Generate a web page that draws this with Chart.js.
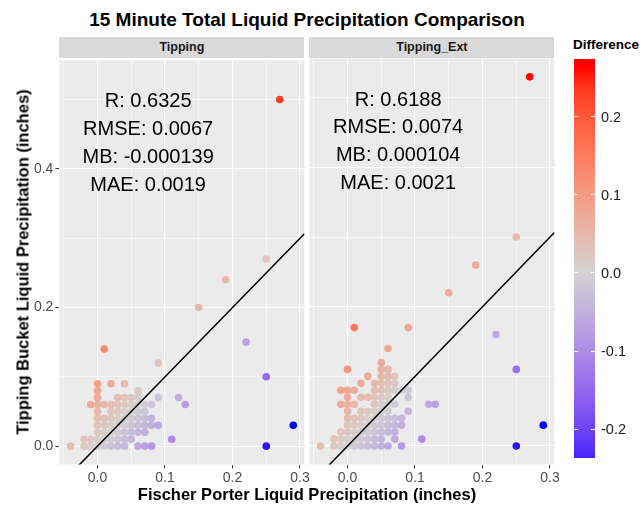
<!DOCTYPE html>
<html><head><meta charset="utf-8">
<script src="https://cdn.jsdelivr.net/npm/chart.js@4.4.1/dist/chart.umd.min.js"></script>
<style>
html,body{margin:0;padding:0;background:#fff;}
body{width:644px;height:508px;overflow:hidden;position:relative;font-family:"Liberation Sans",Arial,Helvetica,sans-serif;}
.abs{position:absolute;white-space:nowrap;}
canvas{position:absolute;}
</style></head><body>
<div id="title" class="abs" style="left:0;width:614px;top:8.5px;text-align:center;font-weight:bold;font-size:19px;color:#000;">15 Minute Total Liquid Precipitation Comparison</div>
<div class="abs" style="left:59.4px;width:245px;top:36.8px;height:21.6px;background:#D9D9D9;"></div>
<div class="abs" style="left:309.4px;width:245px;top:36.8px;height:21.6px;background:#D9D9D9;"></div>
<div id="strip1" class="abs" style="left:59.4px;width:245px;top:36.8px;line-height:21.6px;text-align:center;font-weight:bold;font-size:12.5px;color:#1A1A1A;">Tipping</div>
<div id="strip2" class="abs" style="left:309.4px;width:245px;top:36.8px;line-height:21.6px;text-align:center;font-weight:bold;font-size:12.5px;color:#1A1A1A;">Tipping_Ext</div>
<canvas id="c1" width="315" height="440" style="left:0;top:50px;"></canvas>
<canvas id="c2" width="260" height="440" style="left:305px;top:50px;"></canvas>
<div id="xtitle" class="abs" style="left:0;width:614px;top:485px;text-align:center;font-weight:bold;font-size:16.5px;color:#000;">Fischer Porter Liquid Precipitation (inches)</div>
<div id="ytitle" class="abs" style="left:22.5px;top:261.5px;transform:translate(-50%,-50%) rotate(-90deg);font-weight:bold;font-size:16.5px;color:#000;">Tipping Bucket Liquid Precipitation (inches)</div>
<div id="legtitle" class="abs" style="left:573px;top:37px;font-weight:bold;font-size:13.5px;color:#000;">Difference</div>
<div id="legbar" class="abs" style="left:574px;top:59px;width:21px;height:399px;"></div>
<div id="legticks"></div>
<script>
// ---------- data (inches) ----------
const tippingFP = [
  -0.04,-0.02,-0.01,0.00,0.01,0.02,0.03,0.04,0.06,0.07,0.08,0.25,
  -0.02,-0.01,0.00,0.01,0.02,0.03,0.04,0.05,0.11,
  0.00,0.01,0.02,0.03,0.04,0.05,0.06,0.07,
  0.00,0.01,0.02,0.03,0.04,0.05,0.06,0.07,0.08,0.09,0.29,
  0.00,0.01,0.02,0.03,0.04,0.05,0.06,0.07,0.08,
  0.00,0.02,0.03,0.04,0.05,0.06,0.07,
  -0.01,0.00,0.01,0.02,0.03,0.04,0.05,0.06,0.07,0.08,0.13,
  0.00,0.03,0.04,0.05,0.06,0.09,0.12,
  0.00,0.06,
  0.00,0.02,0.04,
  0.25,0.09,0.01,0.22,0.15,0.19,0.25,0.27
];
const tippingTB = [
  0,0,0,0,0,0,0,0,0,0,0,0,
  0.01,0.01,0.01,0.01,0.01,0.01,0.01,0.01,0.01,
  0.02,0.02,0.02,0.02,0.02,0.02,0.02,0.02,
  0.03,0.03,0.03,0.03,0.03,0.03,0.03,0.03,0.03,0.03,0.03,
  0.04,0.04,0.04,0.04,0.04,0.04,0.04,0.04,0.04,
  0.05,0.05,0.05,0.05,0.05,0.05,0.05,
  0.06,0.06,0.06,0.06,0.06,0.06,0.06,0.06,0.06,0.06,0.06,
  0.07,0.07,0.07,0.07,0.07,0.07,0.07,
  0.08,0.08,
  0.09,0.09,0.09,
  0.10,0.12,0.14,0.15,0.20,0.24,0.27,0.50
];
const extFP = [
  -0.04,-0.02,-0.01,0.00,0.01,0.02,0.03,0.04,0.05,0.06,0.08,0.25,
  -0.02,-0.01,0.00,0.01,0.02,0.03,0.04,0.05,0.07,0.11,
  -0.01,0.00,0.01,0.02,0.03,0.04,0.05,0.06,0.07,
  0.00,0.01,0.02,0.03,0.04,0.05,0.06,0.07,0.08,0.29,
  0.00,0.01,0.02,0.03,0.04,0.05,0.06,0.07,0.08,
  0.00,0.02,0.03,0.04,0.05,0.06,0.09,
  -0.01,0.00,0.01,0.04,0.05,0.06,0.07,0.12,0.13,
  0.00,0.02,0.03,0.04,0.05,0.06,0.09,
  -0.01,0.00,0.01,0.04,0.05,0.06,0.07,0.08,0.09,
  0.02,0.04,0.05,0.06,0.07,
  0.03,0.05,0.06,0.07,
  0.00,0.05,0.06,0.25,
  0.05,0.06,0.22,0.01,0.09,0.15,0.19,0.25,0.27
];
const extTB = [
  0,0,0,0,0,0,0,0,0,0,0,0,
  0.01,0.01,0.01,0.01,0.01,0.01,0.01,0.01,0.01,0.01,
  0.02,0.02,0.02,0.02,0.02,0.02,0.02,0.02,0.02,
  0.03,0.03,0.03,0.03,0.03,0.03,0.03,0.03,0.03,0.03,
  0.04,0.04,0.04,0.04,0.04,0.04,0.04,0.04,0.04,
  0.05,0.05,0.05,0.05,0.05,0.05,0.05,
  0.06,0.06,0.06,0.06,0.06,0.06,0.06,0.06,0.06,
  0.07,0.07,0.07,0.07,0.07,0.07,0.07,
  0.08,0.08,0.08,0.08,0.08,0.08,0.08,0.08,0.08,
  0.09,0.09,0.09,0.09,0.09,
  0.10,0.10,0.10,0.10,
  0.11,0.11,0.11,0.11,
  0.12,0.14,0.16,0.17,0.17,0.22,0.26,0.30,0.53
];
const tippingStats = ["R: 0.6325","RMSE: 0.0067","MB: -0.000139","MAE: 0.0019"];
const extStats = ["R: 0.6188","RMSE: 0.0074","MB: 0.000104","MAE: 0.0021"];
const xTickValues = [-0.05,0,0.05,0.1,0.15,0.2,0.25,0.3];
const xTickLabels = ['','0.0','','0.1','','0.2','','0.3'];
const yTickValues = [0,0.1,0.2,0.3,0.4,0.5];
const yTickLabels = ['0.0','','0.2','','0.4',''];
const legendLimits = [-0.237, 0.274];
const legendBreaks = [0.2,0.1,0,-0.1,-0.2];
const legendLabels = ['0.2','0.1','0.0','-0.1','-0.2'];

// ---------- scale limits (ggplot 5% expansion) ----------
function expand(arr){const lo=Math.min(...arr),hi=Math.max(...arr),d=(hi-lo)*0.05;return [lo-d,hi+d];}
const xLimits = expand(tippingFP.concat(extFP));
const yLimits = expand(tippingTB.concat(extTB));

// ---------- colour (Lab interpolation like scales::div_gradient_pal) ----------
function lin(c){c/=255;return c<=0.04045?c/12.92:Math.pow((c+0.055)/1.055,2.4);}
function delin(c){const v=c<=0.0031308?12.92*c:1.055*Math.pow(c,1/2.4)-0.055;return Math.max(0,Math.min(255,Math.round(v*255)));}
const Wn=[0.95047,1,1.08883];
function f(t){return t>0.008856?Math.cbrt(t):7.787*t+16/116;}
function finv(t){return t>0.206893?t*t*t:(t-16/116)/7.787;}
function toLab(rgb){const [r,g,b]=rgb.map(lin);
  const X=(0.4124*r+0.3576*g+0.1805*b)/Wn[0],Y=(0.2126*r+0.7152*g+0.0722*b)/Wn[1],Z=(0.0193*r+0.1192*g+0.9505*b)/Wn[2];
  return [116*f(Y)-16,500*(f(X)-f(Y)),200*(f(Y)-f(Z))];}
function fromLab(L,a,b){const fy=(L+16)/116,fx=fy+a/500,fz=fy-b/200;
  const X=finv(fx)*Wn[0],Y=finv(fy)*Wn[1],Z=finv(fz)*Wn[2];
  const r=3.2406*X-1.5372*Y-0.4986*Z,g=-0.9689*X+1.8758*Y+0.0415*Z,bb=0.0557*X-0.2040*Y+1.0570*Z;
  return 'rgb('+delin(r)+','+delin(g)+','+delin(bb)+')';}
const LOW=toLab([0,0,255]),MID=toLab([211,211,211]),HIGH=toLab([255,0,0]);
const allDiffs=tippingTB.map((y,i)=>y-tippingFP[i]).concat(extTB.map((y,i)=>y-extFP[i]));
const maxAbs=Math.max(...allDiffs.map(Math.abs));
function colorFor(v){let t=v/(2*maxAbs)+0.5;t=Math.max(0,Math.min(1,t));
  let A,B,u;if(t<0.5){A=LOW;B=MID;u=t/0.5;}else{A=MID;B=HIGH;u=(t-0.5)/0.5;}
  return fromLab(A[0]+(B[0]-A[0])*u,A[1]+(B[1]-A[1])*u,A[2]+(B[2]-A[2])*u);}

// ---------- legend ----------
(function(){
  const bar=document.getElementById('legbar');const stops=[];const n=60;
  for(let i=0;i<=n;i++){const v=legendLimits[1]-(legendLimits[1]-legendLimits[0])*i/n;stops.push(colorFor(v)+' '+(i*100/n).toFixed(2)+'%');}
  bar.style.background='linear-gradient(to bottom,'+stops.join(',')+')';
  const top=59,h=399,left=574,w=21;const holder=document.getElementById('legticks');
  legendBreaks.forEach((b,i)=>{
    const y=top+(legendLimits[1]-b)/(legendLimits[1]-legendLimits[0])*h;
    holder.insertAdjacentHTML('beforeend',
      '<div class="abs" style="left:'+left+'px;top:'+(y-0.5)+'px;width:4px;height:1px;background:#fff;"></div>'+
      '<div class="abs" style="left:'+(left+w-4)+'px;top:'+(y-0.5)+'px;width:4px;height:1px;background:#fff;"></div>'+
      '<div class="abs" style="left:601px;top:'+(y-9)+'px;line-height:18px;font-size:14.5px;color:#1A1A1A;">'+legendLabels[i]+'</div>');
  });
})();

// ---------- charts ----------
const FONT='"Liberation Sans", Arial, sans-serif';
const statAnchor={x:0.075,y:0.4968};
const statLineHeight=27.8;
const panelBg={id:'panelBg',beforeDraw(chart){const a=chart.chartArea,c=chart.ctx;c.save();c.fillStyle='#EBEBEB';c.fillRect(a.left,a.top,a.right-a.left,a.bottom-a.top);c.restore();}};
const statsText={id:'statsText',afterDatasetsDraw(chart,args,opts){
  const c=chart.ctx,x=chart.scales.x,y=chart.scales.y;c.save();
  c.font='20px '+FONT;c.fillStyle='#000';c.textAlign='center';c.textBaseline='middle';
  const cx=x.getPixelForValue(statAnchor.x),cy=y.getPixelForValue(statAnchor.y);
  opts.lines.forEach((t,i)=>c.fillText(t,cx,cy+i*statLineHeight));c.restore();}};

function makePanel(id,fp,tb,stats,showY,yWidth,padRight){
  const pts=fp.map((x,i)=>({x:x,y:tb[i]}));
  const cols=fp.map((x,i)=>colorFor(tb[i]-x));
  const isMajX=c=>xTickLabels[c.index]!=='';
  const isMajY=c=>yTickLabels[c.index]!=='';
  return new Chart(document.getElementById(id),{
    type:'scatter',
    data:{datasets:[
      {data:[{x:xLimits[0],y:xLimits[0]},{x:xLimits[1],y:xLimits[1]}],showLine:true,borderColor:'#000',borderWidth:1.5,pointRadius:0,order:0},
      {data:pts,backgroundColor:cols,pointRadius:3.8,borderWidth:0,order:1}
    ]},
    options:{responsive:false,animation:false,events:[],devicePixelRatio:1,
      layout:{padding:{top:8.4,right:padRight,left:0,bottom:0}},
      plugins:{legend:{display:false},tooltip:{enabled:false},statsText:{lines:stats}},
      scales:{
        x:{type:'linear',min:xLimits[0],max:xLimits[1],
          afterBuildTicks:s=>{s.ticks=xTickValues.map(v=>({value:v}));},
          afterFit:s=>{s.height=25.5;},
          ticks:{autoSkip:false,maxRotation:0,padding:1,color:'#4D4D4D',font:{family:FONT,size:14},callback:(v,i)=>xTickLabels[i]},
          grid:{color:'#FFFFFF',lineWidth:c=>isMajX(c)?1.1:0.55,tickColor:c=>isMajX(c)?'#333333':'rgba(0,0,0,0)',tickLength:4,tickWidth:1},
          border:{display:false}},
        y:{type:'linear',min:yLimits[0],max:yLimits[1],
          afterBuildTicks:s=>{s.ticks=yTickValues.map(v=>({value:v}));},
          afterFit:s=>{s.width=yWidth;},
          ticks:{display:showY,autoSkip:false,padding:2,color:'#4D4D4D',font:{family:FONT,size:14},callback:(v,i)=>yTickLabels[i]},
          grid:{color:'#FFFFFF',lineWidth:c=>isMajY(c)?1.1:0.55,drawTicks:showY,tickColor:c=>isMajY(c)?'#333333':'rgba(0,0,0,0)',tickLength:4,tickWidth:1},
          border:{display:false}}
      }
    },
    plugins:[panelBg,statsText]
  });
}
makePanel('c1',tippingFP,tippingTB,tippingStats,true,59.4,315-304.4);
makePanel('c2',extFP,extTB,extStats,false,4.4,260-249.4);
</script>
</body></html>
